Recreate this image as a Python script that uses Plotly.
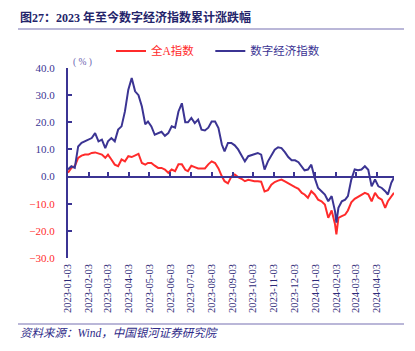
import plotly.graph_objects as go

dates = [
    "2023-01-03", "2023-01-08", "2023-01-13", "2023-01-18", "2023-01-23", "2023-01-28",
    "2023-02-02", "2023-02-07", "2023-02-12", "2023-02-17", "2023-02-22", "2023-02-27",
    "2023-03-03", "2023-03-08", "2023-03-13", "2023-03-18", "2023-03-23", "2023-03-28",
    "2023-04-02", "2023-04-07", "2023-04-12", "2023-04-17", "2023-04-22", "2023-04-27",
    "2023-05-01", "2023-05-06", "2023-05-11", "2023-05-16", "2023-05-21", "2023-05-26",
    "2023-05-31", "2023-06-05", "2023-06-10", "2023-06-15", "2023-06-20", "2023-06-25",
    "2023-06-29", "2023-07-04", "2023-07-09", "2023-07-14", "2023-07-19", "2023-07-24",
    "2023-07-29", "2023-08-03", "2023-08-08", "2023-08-13", "2023-08-18", "2023-08-22",
    "2023-08-27", "2023-09-01", "2023-09-06", "2023-09-11", "2023-09-16", "2023-09-21",
    "2023-09-26", "2023-10-01", "2023-10-05", "2023-10-10", "2023-10-15", "2023-10-20",
    "2023-10-25", "2023-10-30", "2023-11-04", "2023-11-09", "2023-11-14", "2023-11-19",
    "2023-11-24", "2023-11-29", "2023-12-04", "2023-12-09", "2023-12-14", "2023-12-18",
    "2023-12-23", "2023-12-28", "2024-01-02", "2024-01-07", "2024-01-12", "2024-01-17",
    "2024-01-22", "2024-01-27", "2024-02-01", "2024-02-03", "2024-02-06", "2024-02-11",
    "2024-02-16", "2024-02-20", "2024-02-25", "2024-03-01", "2024-03-06", "2024-03-11",
    "2024-03-16", "2024-03-21", "2024-03-26", "2024-03-31", "2024-04-05", "2024-04-10",
    "2024-04-15", "2024-04-19", "2024-04-24", "2024-04-28",
]

all_a = [
    1.4, 3.2, 3.8, 6.9, 7.7, 8.1, 8.1, 8.7, 8.9, 8.5, 8.1, 6.9,
    8.1, 6.3, 4.4, 3.8, 6.3, 5.6, 7.5, 7.2, 7.7, 8.4, 5.0, 4.4,
    5.0, 5.0, 4.0, 3.2, 3.2, 2.6, 1.4, 2.6, 2.0, 4.5, 4.5, 2.5,
    2.0, 4.0, 3.5, 3.0, 3.0, 3.0, 4.5, 5.6, 5.0, 3.0, 0.1, -1.7,
    -2.5, 0.0, 0.8, -0.2, -0.8, -1.7, -1.2, -1.5, -1.7, -1.7, -1.9, -5.5,
    -5.0, -3.0, -2.0, -1.5, -1.1, -1.8, -2.6, -3.2, -3.9, -4.5, -6.0, -6.6,
    -7.8, -5.4, -6.6, -8.5, -9.1, -10.3, -15.2, -12.5, -17.6, -21.3, -15.2, -14.6,
    -14.0, -12.5, -9.5, -8.2, -7.5, -6.9, -6.0, -6.5, -9.1, -6.0, -7.8, -8.5,
    -11.5, -9.1, -7.2, -6.0,
]

digital = [
    2.6, 3.8, 3.2, 11.1, 12.4, 13.0, 13.6, 14.2, 16.0, 13.0, 13.6, 10.5,
    13.0, 14.2, 13.0, 17.3, 18.5, 24.0, 32.0, 36.3, 31.4, 30.0, 25.8, 19.3,
    20.3, 18.5, 15.4, 16.0, 16.5, 15.0, 16.0, 18.5, 18.0, 24.0, 27.0, 20.0,
    20.0, 21.6, 19.7, 21.0, 17.3, 17.0, 18.0, 20.3, 20.3, 17.9, 11.8, 9.3,
    12.4, 12.4, 11.5, 10.0, 7.5, 5.6, 7.5, 8.0, 8.3, 8.7, 8.1, 2.6,
    5.6, 7.5, 9.9, 10.8, 10.5, 9.0, 7.2, 6.0, 6.0, 5.3, 3.5, 2.3,
    2.6, 4.4, -0.5, -4.2, -5.4, -6.6, -9.1, -7.2, -12.8, -17.0, -11.5, -9.1,
    -8.5, -7.2, -1.1, 2.6, 2.3, 2.6, 3.8, 2.5, -3.6, -1.1, -3.6, -4.2,
    -5.4, -6.6, -2.3, -0.3,
]

month_ticks = [
    "2023-01-03", "2023-02-03", "2023-03-03", "2023-04-03", "2023-05-03", "2023-06-03",
    "2023-07-03", "2023-08-03", "2023-09-03", "2023-10-03", "2023-11-03", "2023-12-03",
    "2024-01-03", "2024-02-03", "2024-03-03", "2024-04-03",
]
y_ticks = [40, 30, 20, 10, 0, -10, -20, -30]

NAVY = "#3b3493"
RED = "#ff2b2b"
TXT = "#2e2a78"
LAV = "#a39fcb"
SERIF = "Liberation Serif, Times New Roman, Noto Sans CJK SC, serif"


def ylab(v):
    s = f"{abs(v):.1f}"
    if v < 0:
        return f'<span style="fill:{RED}">\u2212{s}</span>'
    return s


fig = go.Figure()
fig.add_trace(go.Scatter(
    x=dates, y=all_a, mode="lines", line=dict(color=RED, width=2),
    name=f'<span style="fill:{RED}">全A指数</span>&nbsp;&nbsp;&nbsp;&nbsp;',
))
fig.add_trace(go.Scatter(
    x=dates, y=digital, mode="lines", line=dict(color=NAVY, width=2),
    name="数字经济指数",
))

fig.update_layout(
    width=415, height=351,
    margin=dict(l=68, r=21, t=68, b=93),
    paper_bgcolor="white", plot_bgcolor="white",
    font=dict(family=SERIF, size=11, color=TXT),
    showlegend=True,
    legend=dict(
        orientation="h", x=(111 - 68) / 326, xanchor="left", y=1.09, yanchor="middle",
        font=dict(family=SERIF, size=11.5, color=NAVY),
        bgcolor="rgba(0,0,0,0)", borderwidth=0,
    ),
    xaxis=dict(
        type="date", range=["2023-01-03", "2024-04-28"],
        tickvals=month_ticks, ticktext=month_ticks, tickangle=-90,
        showline=False, showgrid=False, zeroline=False, ticks="",
        tickfont=dict(family=SERIF, size=10.5, color=TXT),
        ticklabelstandoff=3,
    ),
    xaxis2=dict(
        type="date", matches="x", overlaying="x", anchor="free", position=30 / 70,
        tickvals=month_ticks, showticklabels=False, ticks="inside", ticklen=4,
        tickcolor=NAVY, tickwidth=1.5, showline=True, linecolor=NAVY, linewidth=1.5,
        showgrid=False, zeroline=False,
    ),
    yaxis=dict(
        range=[-30, 40], tickvals=y_ticks, ticktext=[ylab(v) for v in y_ticks],
        showline=True, linecolor=NAVY, linewidth=2, ticks="inside", ticklen=4,
        tickcolor=NAVY, tickwidth=1.5, showgrid=False, zeroline=False,
        tickfont=dict(family=SERIF, size=11, color=NAVY),
        ticklabelstandoff=9,
    ),
)

# invisible trace to keep the zero-line axis drawn
fig.add_trace(go.Scatter(x=[dates[0]], y=[0], xaxis="x2", mode="markers",
                         marker=dict(opacity=0), showlegend=False, hoverinfo="skip"))

fig.add_annotation(
    text="图27：2023 年至今数字经济指数累计涨跌幅", xref="paper", yref="paper",
    x=-50 / 326, y=1 + (68 - 17) / 190, xanchor="left", yanchor="middle",
    showarrow=False, font=dict(family=SERIF, size=12, color="#24246a", weight="bold"),
)
fig.add_annotation(
    text="资料来源：Wind，中国银河证券研究院", xref="paper", yref="paper",
    x=-50 / 326, y=-(333 - 258) / 190, xanchor="left", yanchor="middle",
    showarrow=False, font=dict(family=SERIF, size=11.5, color="#2e2a88", style="italic"),
)
fig.add_annotation(
    text="( % )", xref="paper", yref="paper",
    x=3 / 326, y=1 + (68 - 63) / 190, xanchor="left", yanchor="middle",
    showarrow=False, font=dict(family=SERIF, size=9.5, color="#6a64b0"),
)

fig.add_shape(type="line", xref="paper", yref="paper",
              x0=-50 / 326, x1=336 / 326, y0=1 + (68 - 29) / 190, y1=1 + (68 - 29) / 190,
              line=dict(color=LAV, width=1.5))
fig.add_shape(type="line", xref="paper", yref="paper",
              x0=-50 / 326, x1=336 / 326, y0=-(324 - 258) / 190, y1=-(324 - 258) / 190,
              line=dict(color=LAV, width=1.5))

fig.write_html("out.html")
